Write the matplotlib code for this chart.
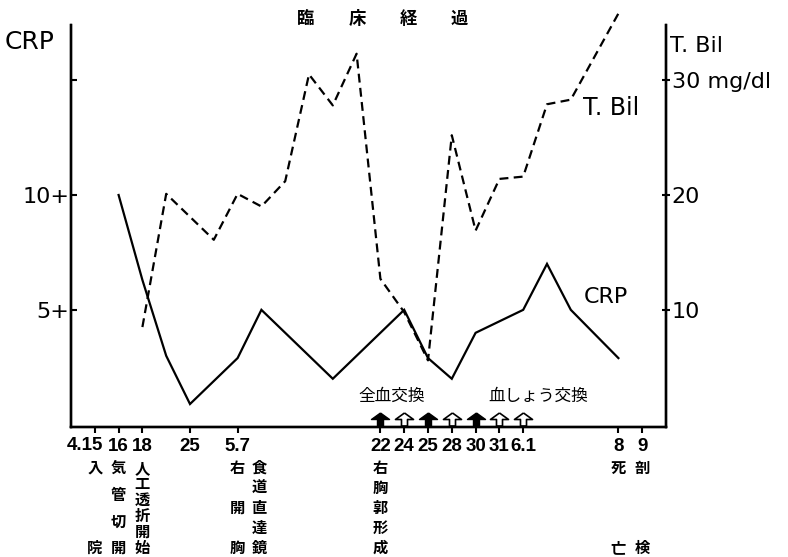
import numpy as np
import matplotlib
matplotlib.use("Agg")
import matplotlib.pyplot as plt
from matplotlib.path import Path
from matplotlib.transforms import blended_transform_factory

plt.rcParams['font.family'] = ['DejaVu Sans', 'Noto Sans CJK JP']

# x axis: dates on an irregular slot scale
date_slots = [0, 1, 2, 4, 6, 12, 13, 14, 15, 16, 17, 18, 22, 23]
date_labels = ["4.15", "16", "18", "25", "5.7", "22", "24", "25", "28", "30",
               "31", "6.1", "8", "9"]

# CRP (left axis)
crp_slots = [1, 2, 3, 4, 6, 7, 10, 13, 14, 15, 16, 18, 19, 20, 22]
crp_values = [10, 6.3, 3, 0.9, 2.9, 5, 2, 5, 2.9, 2, 4, 5, 7, 5, 2.9]

# T.Bil mg/dl (right axis)
tbil_slots = [2, 3, 5, 6, 7, 8, 9, 10, 11, 12, 13, 14, 15, 16, 17, 18, 19, 20, 22]
tbil_values = [8.5, 20.1, 16.1, 20.1, 19.0, 21.2, 30.5, 27.8, 32.3, 12.7, 9.8,
               5.6, 25.2, 16.9, 21.4, 21.6, 27.9, 28.3, 35.8]

# exchange transfusions: filled = whole blood, open = plasma
whole_blood_slots = [12, 14, 16]
plasma_slots = [13, 15, 17, 18]

# clinical events written vertically under the dates
event_slots = [0, 1, 2, 6, 6.9, 12, 22, 23]
event_texts = ["入院", "気管切開", "人工透折開始", "右開胸", "食道直達鏡",
               "右胸郭形成", "死亡", "剖検"]

title_chars = ["臨", "床", "経", "過"]

W, H = 788, 557
fig = plt.figure(figsize=(W / 100, H / 100), dpi=100)


def fx(x):
    return x / W


def fy(y):
    return 1 - y / H


ax = fig.add_axes([fx(71), fy(427), fx(666) - fx(71), fy(25) - fy(427)])
ax2 = ax.twinx()

ax.set_xlim(-1, 24)
ax.set_ylim(-0.1, 17.4)
ax2.set_ylim(-0.2, 34.8)

for a in (ax, ax2):
    a.spines['top'].set_visible(False)
    for s in ('left', 'right', 'bottom'):
        a.spines[s].set_linewidth(1.7)

ax.plot(crp_slots, crp_values, color='black', lw=1.6, solid_joinstyle='miter')
ax2.plot(tbil_slots, tbil_values, color='black', lw=1.6,
         linestyle=(0, (4, 2.4)), clip_on=False)

# arrows
arrow = Path([(0, 6.5), (9, 0), (3, 0), (3, -6.5), (-3, -6.5), (-3, 0), (-9, 0), (0, 6.5)])
arrow_y = 0.27
ax.plot(whole_blood_slots, [arrow_y] * len(whole_blood_slots), ls='none',
        marker=arrow, markersize=13, markerfacecolor='black',
        markeredgecolor='black', markeredgewidth=1.0, clip_on=False)
ax.plot(plasma_slots, [arrow_y] * len(plasma_slots), ls='none',
        marker=arrow, markersize=13, markerfacecolor='white',
        markeredgecolor='black', markeredgewidth=1.2, clip_on=False)

# x ticks; the first label ("4.15") hangs left of its tick like the original
tick_font = dict(family='Liberation Sans', weight='bold', fontsize=13.5)
ax.set_xticks(date_slots, [''] + date_labels[1:])
ax.tick_params(axis='x', direction='out', length=4, width=1.5, pad=4)
for t in ax.get_xticklabels():
    t.set_fontfamily(tick_font['family'])
    t.set_fontweight(tick_font['weight'])
    t.set_fontsize(tick_font['fontsize'])
tr_x = blended_transform_factory(ax.transData, fig.transFigure)
ax.text(date_slots[0] + 0.36, fy(436.5), date_labels[0], transform=tr_x,
        ha='right', va='top', clip_on=False, **tick_font)

# left y ticks
ax.set_yticks([5, 10, 15], ['5+', '10+', ''])
ax.tick_params(axis='y', direction='in', length=4, width=1.5, pad=1,
               labelsize=16)
# right y ticks
ax2.set_yticks([10, 20, 30], ['10', '20', '30 mg/dl'])
ax2.tick_params(axis='y', direction='inout', length=6, width=1.5, pad=1,
                labelsize=16)

# axis titles
fig.text(fx(5), fy(42), 'CRP', fontsize=18, va='center', ha='left')
fig.text(fx(670), fy(46), 'T. Bil', fontsize=16, va='center', ha='left')

# line labels
fig.text(fx(611), fy(108), 'T. Bil', fontsize=17, va='center', ha='center')
fig.text(fx(606), fy(297), 'CRP', fontsize=16, va='center', ha='center')

# title
cjk = ['Noto Sans CJK JP', 'DejaVu Sans']
for ch, x in zip(title_chars, np.linspace(306, 459, len(title_chars))):
    fig.text(fx(x), fy(19), ch, fontsize=12.5, family=cjk, weight='bold',
             ha='center', va='center')

fig.text(fx(358), fy(396), '全血交換', fontsize=12, family=cjk,
         ha='left', va='center')
fig.text(fx(488), fy(396), '血しょう交換', fontsize=12, family=cjk,
         ha='left', va='center')

# vertical event labels
for slot, txt in zip(event_slots, event_texts):
    ys = np.linspace(468, 548, len(txt))
    for ch, y in zip(txt, ys):
        ax.text(slot, fy(y), ch, transform=tr_x, fontsize=11, family=cjk,
                weight='bold', ha='center', va='center', clip_on=False)

fig.savefig('out.png', dpi=100)
